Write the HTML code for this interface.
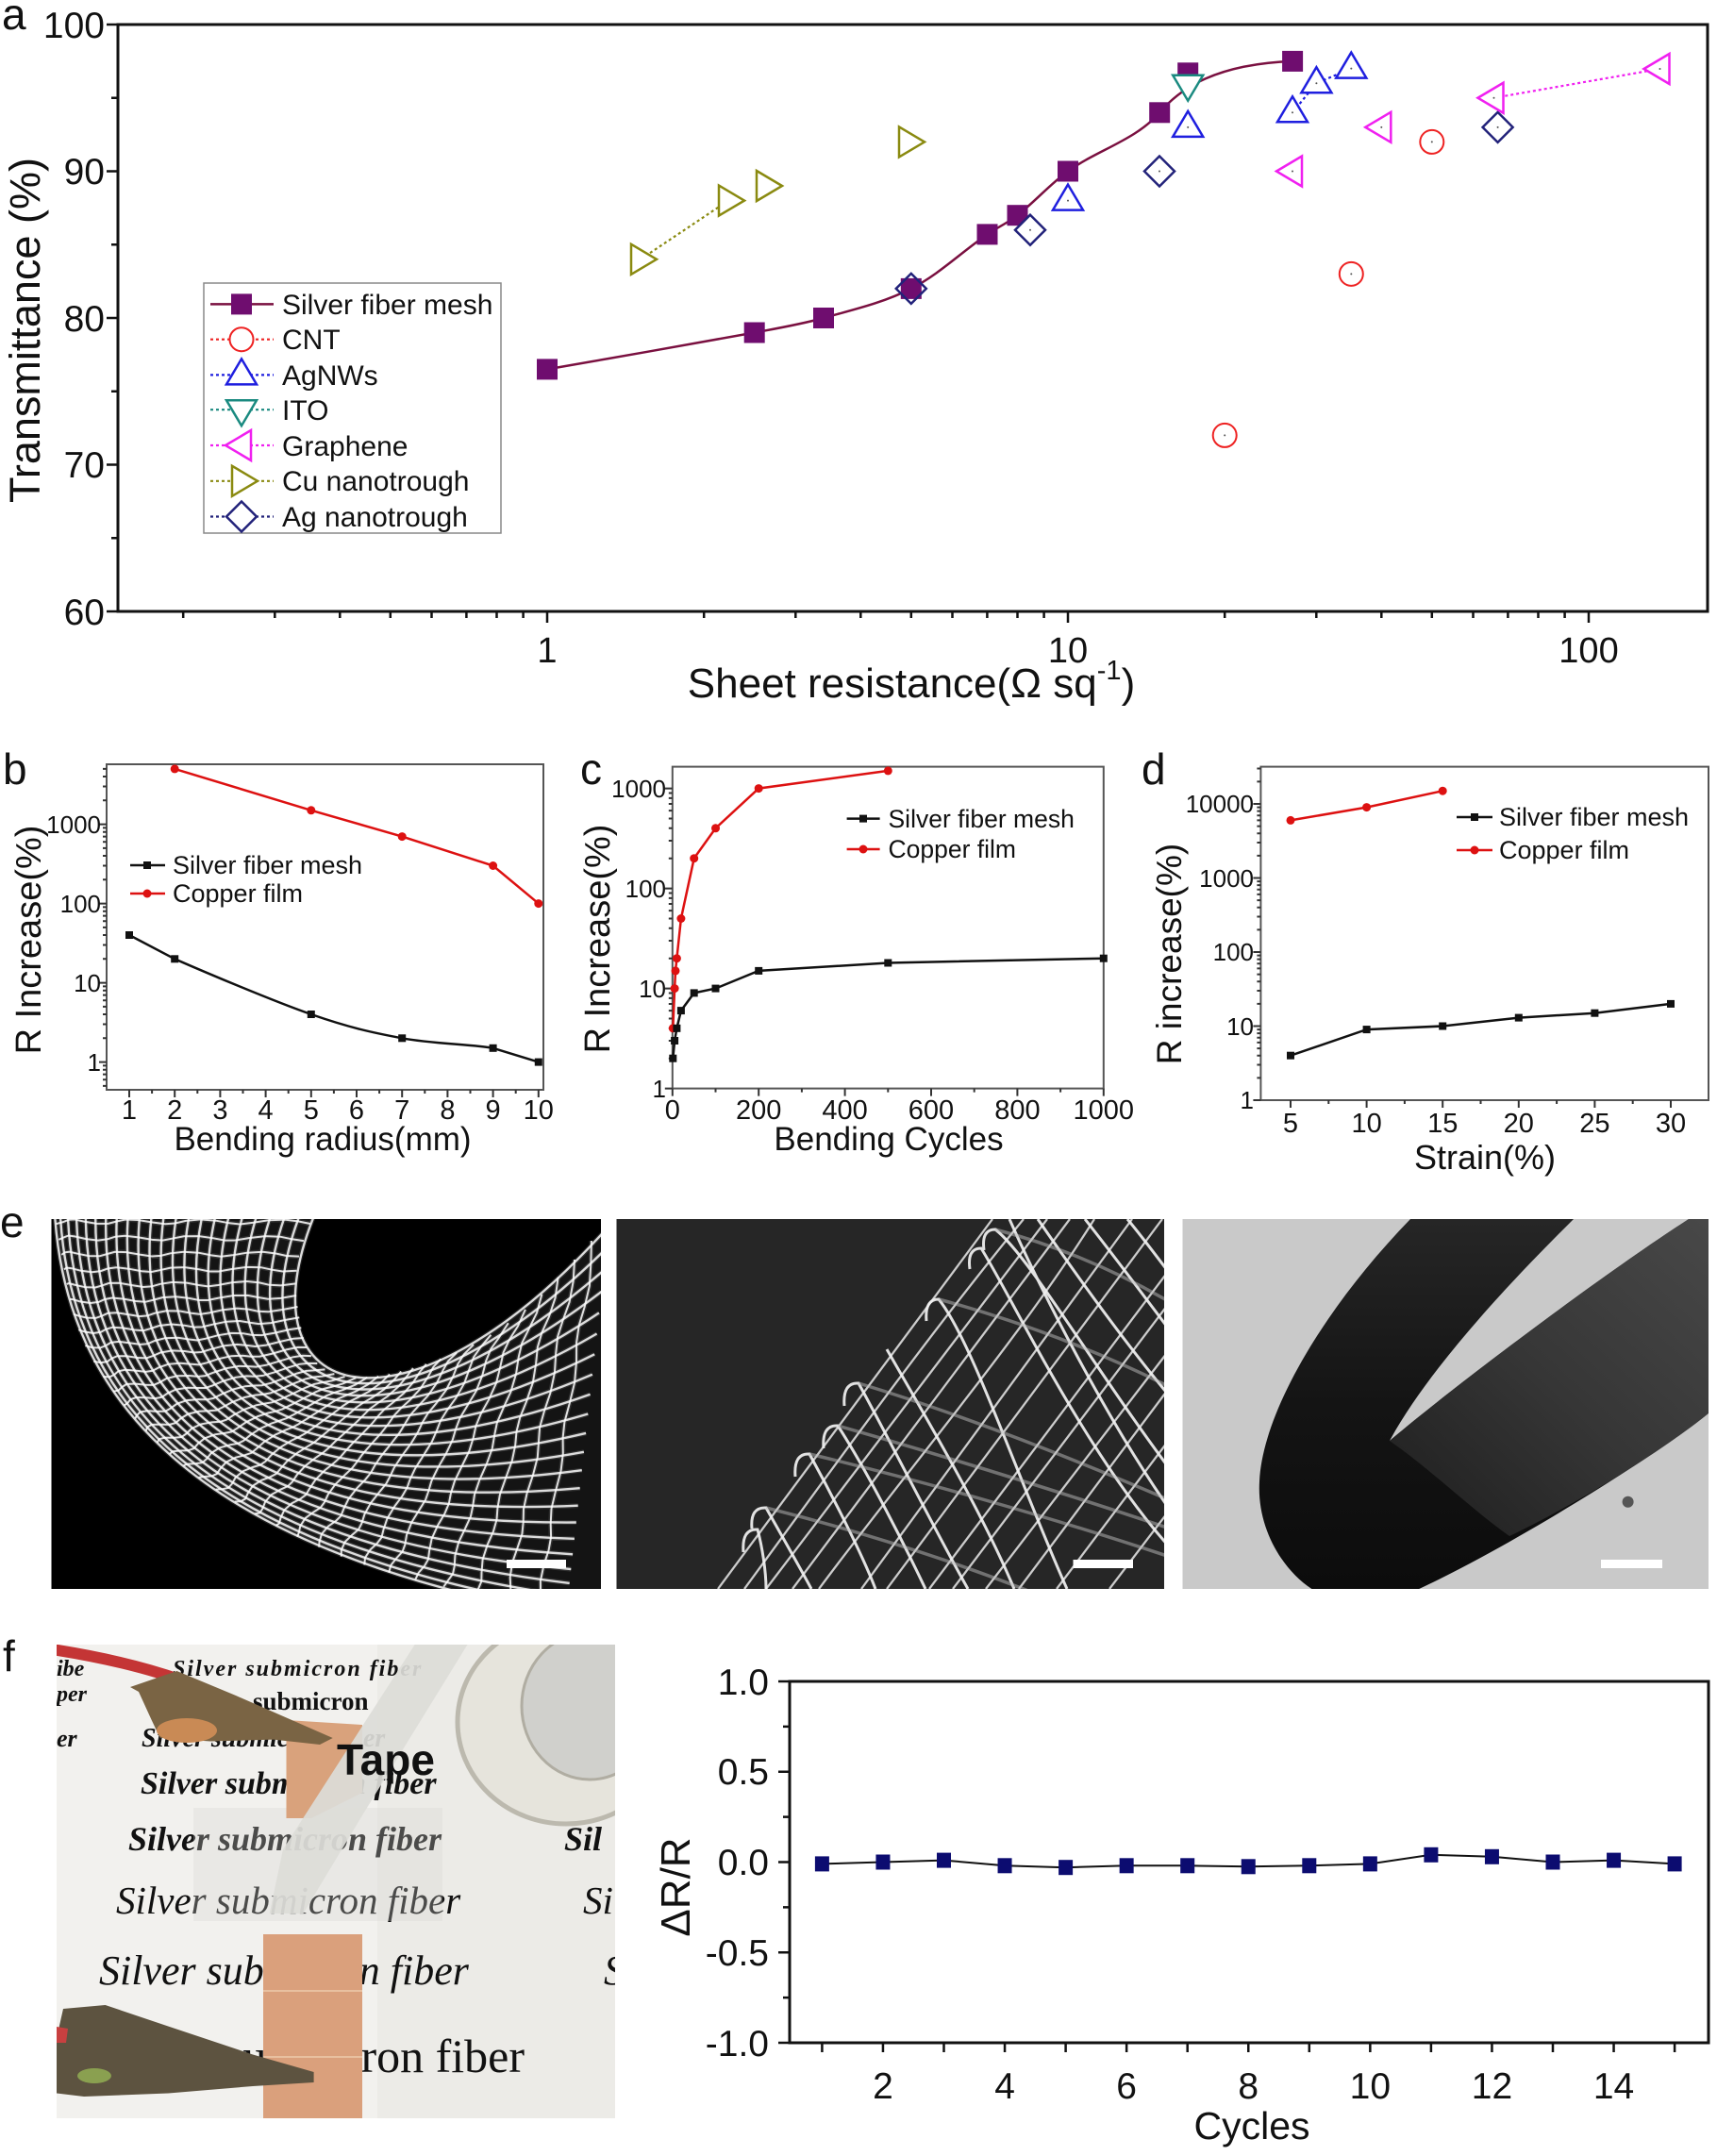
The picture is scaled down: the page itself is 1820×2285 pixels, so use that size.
<!DOCTYPE html>
<html><head><meta charset="utf-8"><style>
html,body{margin:0;padding:0;background:#fff;}
svg{display:block;}
text{font-family:"Liberation Sans",Arial,sans-serif;fill:#111;}
.sr{font-family:"Liberation Serif","Times New Roman",serif;}
</style></head><body>
<svg xmlns="http://www.w3.org/2000/svg" width="1820" height="2285" viewBox="0 0 1820 2285">
<defs>
<clipPath id="c1"><rect x="54.5" y="1292" width="582.5" height="392"/></clipPath>
<clipPath id="c2"><rect x="653.5" y="1292" width="580.5" height="392"/></clipPath>
<clipPath id="c3"><rect x="1253.5" y="1292" width="557.5" height="392"/></clipPath>
<clipPath id="cp"><rect x="60" y="1743" width="592" height="502"/></clipPath>
<linearGradient id="ra" x1="0" y1="1" x2="1" y2="0"><stop offset="0" stop-color="#1e1e1e"/><stop offset="0.5" stop-color="#383838"/><stop offset="1" stop-color="#4a4a4a"/></linearGradient>
<linearGradient id="la" x1="0" y1="0" x2="0" y2="1"><stop offset="0" stop-color="#262626"/><stop offset="0.5" stop-color="#141414"/><stop offset="1" stop-color="#0c0c0c"/></linearGradient>
</defs>
<rect width="1820" height="2285" fill="#fff"/>

<!-- ================= PANEL A ================= -->
<text x="2" y="31" font-size="46">a</text>
<rect x="125" y="26" width="1685" height="622" fill="none" stroke="#111" stroke-width="3"/>
<path fill="none" stroke="#111" stroke-width="2.5" d="M125,26h-12M125,181.5h-12M125,337h-12M125,492.5h-12M125,648h-12M125,103.75h-7M125,259.25h-7M125,414.75h-7M125,570.25h-7
M580,648v12M1132,648v12M1684,648v12
M194.2,648v7M291.3,648v7M360.3,648v7M413.8,648v7M457.5,648v7M494.4,648v7M526.5,648v7M554.6,648v7
M746.2,648v7M843.3,648v7M912.3,648v7M965.8,648v7M1009.5,648v7M1046.4,648v7M1078.5,648v7M1106.6,648v7
M1298.2,648v7M1395.3,648v7M1464.3,648v7M1517.8,648v7M1561.5,648v7M1598.4,648v7M1630.5,648v7M1658.6,648v7"/>
<g font-size="39" text-anchor="end">
<text x="111" y="40">100</text><text x="111" y="195">90</text><text x="111" y="351">80</text><text x="111" y="506">70</text><text x="111" y="662">60</text>
</g>
<g font-size="38" text-anchor="middle">
<text x="580" y="702">1</text><text x="1132" y="702">10</text><text x="1684" y="702">100</text>
</g>
<text x="966" y="739" font-size="44" text-anchor="middle">Sheet resistance(Ω sq<tspan font-size="29" dy="-19">-1</tspan><tspan dy="19">)</tspan></text>
<text transform="translate(42,350) rotate(-90)" font-size="45" text-anchor="middle">Transmittance (%)</text>

<!-- silver fiber mesh curve -->
<path fill="none" stroke="#7a1040" stroke-width="2.5" d="M580,391.4 C652.9,378.5 727,366 799.7,352.5 C824.3,347.9 848.9,343.75 873,337 C904.5,328.2 936.7,320.8 965.8,305.9 C995.2,290.9 1019.3,267.1 1046.5,248.4 C1056.9,241.2 1068.6,236 1078.5,228.2 C1097.2,213.6 1112.8,195.4 1132,181.5 C1162.8,159.2 1204.3,148.2 1229.2,119.3 C1251.8,92.7 1290,68 1370,64.9"/>
<g fill="#6f0d6f">
<rect x="569" y="380.4" width="22" height="22"/>
<rect x="788.7" y="341.5" width="22" height="22"/>
<rect x="862" y="326" width="22" height="22"/>
<rect x="954.8" y="294.9" width="22" height="22"/>
<rect x="1035.5" y="237.4" width="22" height="22"/>
<rect x="1067.5" y="217.2" width="22" height="22"/>
<rect x="1121" y="170.5" width="22" height="22"/>
<rect x="1218.2" y="108.3" width="22" height="22"/>
<rect x="1248.2" y="66.3" width="22" height="22"/>
<rect x="1359.1" y="53.9" width="22" height="22"/>
</g>
<g fill="none" stroke-width="2.2" stroke-dasharray="3,3">
<path stroke="#8a8a10" d="M679,274.8L772,212.6"/>
<path stroke="#1f1fdf" d="M1370,119.3L1395.4,88.2L1432.3,72.6"/>
<path stroke="#f020f0" d="M1583.5,103.75L1759.5,73"/>
</g>
<g fill="#fff" stroke="#ee2222" stroke-width="2">
<circle cx="1298.2" cy="461.4" r="12.5"/><circle cx="1432.3" cy="290.35" r="12.5"/><circle cx="1517.8" cy="150.4" r="12.5"/>
</g>
<g fill="#fff" stroke="#22227a" stroke-width="2.5">
<path d="M965.8,289.9l16,16l-16,16l-16,-16z" fill="none"/>
<path d="M1092,227.7l16,16l-16,16l-16,-16z"/>
<path d="M1229,165.5l16,16l-16,16l-16,-16z"/>
<path d="M1587.6,118.85l16,16l-16,16l-16,-16z"/>
</g>
<g fill="#fff" stroke="#1f1fdf" stroke-width="2.5">
<path d="M1132,195.6l16,27h-32z"/>
<path d="M1259.2,117.85l16,27h-32z"/>
<path d="M1370,102.3l16,27h-32z"/>
<path d="M1395.4,71.2l16,27h-32z"/>
<path d="M1432.3,55.6l16,27h-32z"/>
</g>
<path fill="#fff" stroke="#1a8a80" stroke-width="2.5" d="M1243.2,79.7h32l-16,27z"/>
<g fill="#fff" stroke="#f020f0" stroke-width="2.5">
<path d="M1353,181.5l27,-16v32z"/>
<path d="M1447.3,134.85l27,-16v32z"/>
<path d="M1566.5,103.75l27,-16v32z"/>
<path d="M1742.5,73l27,-16v32z"/>
</g>
<g fill="#fff" stroke="#8a8a10" stroke-width="2.5">
<path d="M696,274.8l-27,-16v32z"/>
<path d="M789,212.6l-27,-16v32z"/>
<path d="M829,197l-27,-16v32z"/>
<path d="M980,150.4l-27,-16v32z"/>
</g>
<g fill="#555">
<circle cx="1298.2" cy="461.4" r="1"/><circle cx="1432.3" cy="290.35" r="1"/><circle cx="1517.8" cy="150.4" r="1"/>
<circle cx="1132" cy="212.6" r="1"/><circle cx="1259.2" cy="134.85" r="1"/><circle cx="1370" cy="119.3" r="1"/><circle cx="1395.4" cy="88.2" r="1"/><circle cx="1432.3" cy="72.6" r="1"/>
<circle cx="1370" cy="181.5" r="1"/><circle cx="1464.3" cy="134.85" r="1"/><circle cx="1583.5" cy="103.75" r="1"/><circle cx="1759.5" cy="73" r="1"/>
<circle cx="1092" cy="243.7" r="1"/><circle cx="1229" cy="181.5" r="1"/><circle cx="1587.6" cy="134.85" r="1"/>
</g>
<!-- legend a -->
<rect x="216" y="300" width="315" height="265" fill="#fff" stroke="#888" stroke-width="1.5"/>
<path d="M223,322.4H290" stroke="#7a1040" stroke-width="2.5"/>
<rect x="245" y="311.4" width="22" height="22" fill="#6f0d6f"/>
<g fill="none" stroke-width="2.2" stroke-dasharray="3,3">
<path d="M223,359.7H290" stroke="#ee2222"/>
<path d="M223,397.4H290" stroke="#1f1fdf"/>
<path d="M223,434.2H290" stroke="#1a8a80"/>
<path d="M223,472H290" stroke="#f020f0"/>
<path d="M223,509.8H290" stroke="#8a8a10"/>
<path d="M223,547.5H290" stroke="#22227a"/>
</g>
<circle cx="256" cy="359.7" r="12.5" fill="#fff" stroke="#ee2222" stroke-width="2"/>
<path d="M256,380.4l16,27h-32z" fill="#fff" stroke="#1f1fdf" stroke-width="2.5"/>
<path d="M240,424.2h32l-16,27z" fill="#fff" stroke="#1a8a80" stroke-width="2.5"/>
<path d="M239,472l27,-16v32z" fill="#fff" stroke="#f020f0" stroke-width="2.5"/>
<path d="M273,509.8l-27,-16v32z" fill="#fff" stroke="#8a8a10" stroke-width="2.5"/>
<path d="M256,531.5l16,16l-16,16l-16,-16z" fill="#fff" stroke="#22227a" stroke-width="2.5"/>
<g font-size="30">
<text x="299" y="333">Silver fiber mesh</text>
<text x="299" y="370">CNT</text>
<text x="299" y="408">AgNWs</text>
<text x="299" y="445">ITO</text>
<text x="299" y="483">Graphene</text>
<text x="299" y="520">Cu nanotrough</text>
<text x="299" y="558">Ag nanotrough</text>
</g>

<!-- ================= PANEL B ================= -->
<text x="3" y="831" font-size="46">b</text>
<rect x="113" y="810" width="463" height="345" fill="none" stroke="#555" stroke-width="2"/>
<path fill="none" stroke="#333" stroke-width="2" d="M113,1125.6h-8M113,1041.6h-8M113,957.6h-8M113,873.6h-8
M113,1150.9h-4M113,1144.2h-4M113,1138.6h-4M113,1133.7h-4M113,1129.4h-4
M113,1100.3h-4M113,1085.5h-4M113,1075h-4M113,1066.9h-4M113,1060.2h-4M113,1054.6h-4M113,1049.7h-4M113,1045.4h-4
M113,1016.3h-4M113,1001.5h-4M113,991h-4M113,982.9h-4M113,976.2h-4M113,970.6h-4M113,965.7h-4M113,961.4h-4
M113,932.3h-4M113,917.5h-4M113,907h-4M113,898.9h-4M113,892.2h-4M113,886.6h-4M113,881.7h-4M113,877.4h-4
M113,848.3h-4M113,833.5h-4M113,823h-4M113,814.9h-4
M137,1155v8M185.2,1155v8M233.4,1155v8M281.6,1155v8M329.8,1155v8M378,1155v8M426.2,1155v8M474.4,1155v8M522.6,1155v8M570.8,1155v8
M161.1,1155v4M209.3,1155v4M257.5,1155v4M305.7,1155v4M353.9,1155v4M402.1,1155v4M450.3,1155v4M498.5,1155v4M546.7,1155v4"/>
<path fill="none" stroke="#dd1111" stroke-width="2.5" d="M185.2,814.9L329.8,858.8L426.2,886.6L522.6,917.5L570.8,957.6"/>
<path fill="none" stroke="#111" stroke-width="2.5" d="M137,991L185.2,1016.3C217.3,1030.3 289.6,1061 329.8,1075C370,1089 394.1,1094.3 426.2,1100.3C458.3,1106.3 498.5,1106.6 522.6,1110.8L570.8,1125.6"/>
<g fill="#dd1111"><circle cx="185.2" cy="814.9" r="4.5"/><circle cx="329.8" cy="858.8" r="4.5"/><circle cx="426.2" cy="886.6" r="4.5"/><circle cx="522.6" cy="917.5" r="4.5"/><circle cx="570.8" cy="957.6" r="4.5"/></g>
<g fill="#111"><rect x="133" y="987" width="8" height="8"/><rect x="181.2" y="1012.3" width="8" height="8"/><rect x="325.8" y="1071" width="8" height="8"/><rect x="422.2" y="1096.3" width="8" height="8"/><rect x="518.6" y="1106.8" width="8" height="8"/><rect x="566.8" y="1121.6" width="8" height="8"/></g>
<path d="M138,917H175" stroke="#111" stroke-width="2.5"/><rect x="152" y="913" width="8" height="8" fill="#111"/>
<path d="M138,947H175" stroke="#dd1111" stroke-width="2.5"/><circle cx="156" cy="947" r="4.5" fill="#dd1111"/>
<text x="183" y="926" font-size="27">Silver fiber mesh</text>
<text x="183" y="956" font-size="27">Copper film</text>
<g font-size="26" text-anchor="end" fill="#222">
<text x="107" y="883">1000</text><text x="107" y="967">100</text><text x="107" y="1051">10</text><text x="107" y="1135">1</text>
</g>
<g font-size="29" text-anchor="middle">
<text x="137" y="1186">1</text><text x="185.2" y="1186">2</text><text x="233.4" y="1186">3</text><text x="281.6" y="1186">4</text><text x="329.8" y="1186">5</text><text x="378" y="1186">6</text><text x="426.2" y="1186">7</text><text x="474.4" y="1186">8</text><text x="522.6" y="1186">9</text><text x="570.8" y="1186">10</text>
</g>
<text transform="translate(43,996) rotate(-90)" font-size="38" text-anchor="middle">R Increase(%)</text>
<text x="342" y="1219" font-size="35" text-anchor="middle">Bending radius(mm)</text>

<!-- ================= PANEL C ================= -->
<text x="615" y="831" font-size="46">c</text>
<rect x="712.8" y="812.6" width="457" height="341" fill="none" stroke="#555" stroke-width="2"/>
<path fill="none" stroke="#333" stroke-width="2" d="M712.8,1153.6h-8M712.8,1047.6h-8M712.8,941.6h-8M712.8,835.6h-8
M712.8,1121.7h-4M712.8,1103h-4M712.8,1089.8h-4M712.8,1079.5h-4M712.8,1071.1h-4M712.8,1064h-4M712.8,1057.9h-4M712.8,1052.5h-4
M712.8,1015.7h-4M712.8,997h-4M712.8,983.8h-4M712.8,973.5h-4M712.8,965.1h-4M712.8,958h-4M712.8,951.9h-4M712.8,946.5h-4
M712.8,909.7h-4M712.8,891h-4M712.8,877.8h-4M712.8,867.5h-4M712.8,859.1h-4M712.8,852h-4M712.8,845.9h-4M712.8,840.5h-4
M712.8,1153.6v8M804.2,1153.6v8M895.6,1153.6v8M987,1153.6v8M1078.4,1153.6v8M1169.8,1153.6v8
M758.5,1153.6v4M849.9,1153.6v4M941.3,1153.6v4M1032.7,1153.6v4M1124.1,1153.6v4"/>
<path fill="none" stroke="#dd1111" stroke-width="2.5" d="M713.3,1089.8L715.1,1047.6L716,1028.9L717.4,1015.7L721.9,973.5L735.7,909.7L758.5,877.8L804.2,835.6L941.3,816.9"/>
<path fill="none" stroke="#111" stroke-width="2.5" d="M713.3,1121.7L715.1,1103L717.4,1089.8L721.9,1071.1L735.7,1052.4L758.5,1047.6L804.2,1028.9L941.3,1020.5L1169.8,1015.7"/>
<g fill="#dd1111"><circle cx="713.3" cy="1089.8" r="4.5"/><circle cx="715.1" cy="1047.6" r="4.5"/><circle cx="716" cy="1028.9" r="4.5"/><circle cx="717.4" cy="1015.7" r="4.5"/><circle cx="721.9" cy="973.5" r="4.5"/><circle cx="735.7" cy="909.7" r="4.5"/><circle cx="758.5" cy="877.8" r="4.5"/><circle cx="804.2" cy="835.6" r="4.5"/><circle cx="941.3" cy="816.9" r="4.5"/></g>
<g fill="#111"><rect x="709.3" y="1117.7" width="8" height="8"/><rect x="711.1" y="1099" width="8" height="8"/><rect x="713.4" y="1085.8" width="8" height="8"/><rect x="717.9" y="1067.1" width="8" height="8"/><rect x="731.7" y="1048.4" width="8" height="8"/><rect x="754.5" y="1043.6" width="8" height="8"/><rect x="800.2" y="1024.9" width="8" height="8"/><rect x="937.3" y="1016.5" width="8" height="8"/><rect x="1165.8" y="1011.7" width="8" height="8"/></g>
<path d="M897.6,867.6H932.6" stroke="#111" stroke-width="2.5"/><rect x="911" y="863.6" width="8" height="8" fill="#111"/>
<path d="M897.6,900H932.6" stroke="#dd1111" stroke-width="2.5"/><circle cx="915" cy="900" r="4.5" fill="#dd1111"/>
<text x="941.5" y="877" font-size="26.5">Silver fiber mesh</text>
<text x="941.5" y="909" font-size="26.5">Copper film</text>
<g font-size="26" text-anchor="end" fill="#222">
<text x="706" y="845">1000</text><text x="706" y="951">100</text><text x="706" y="1057">10</text><text x="706" y="1163">1</text>
</g>
<g font-size="29" text-anchor="middle">
<text x="712.8" y="1186">0</text><text x="804.2" y="1186">200</text><text x="895.6" y="1186">400</text><text x="987" y="1186">600</text><text x="1078.4" y="1186">800</text><text x="1169.8" y="1186">1000</text>
</g>
<text transform="translate(646,995) rotate(-90)" font-size="38" text-anchor="middle">R Increase(%)</text>
<text x="942" y="1219" font-size="35" text-anchor="middle">Bending Cycles</text>

<!-- ================= PANEL D ================= -->
<text x="1210" y="831" font-size="46">d</text>
<rect x="1336.4" y="812.6" width="474.6" height="353.4" fill="none" stroke="#555" stroke-width="2"/>
<path fill="none" stroke="#333" stroke-width="2" d="M1336.4,1166h-8M1336.4,1087.5h-8M1336.4,1009h-8M1336.4,930.5h-8M1336.4,852h-8
M1336.4,1142.4h-4M1336.4,1128.5h-4M1336.4,1118.7h-4M1336.4,1111.1h-4M1336.4,1104.9h-4M1336.4,1099.7h-4M1336.4,1095.1h-4M1336.4,1091.1h-4
M1336.4,1063.9h-4M1336.4,1050h-4M1336.4,1040.2h-4M1336.4,1032.6h-4M1336.4,1026.4h-4M1336.4,1021.2h-4M1336.4,1016.6h-4M1336.4,1012.6h-4
M1336.4,985.4h-4M1336.4,971.5h-4M1336.4,961.7h-4M1336.4,954.1h-4M1336.4,947.9h-4M1336.4,942.7h-4M1336.4,938.1h-4M1336.4,934.1h-4
M1336.4,906.9h-4M1336.4,893h-4M1336.4,883.2h-4M1336.4,875.6h-4M1336.4,869.4h-4M1336.4,864.2h-4M1336.4,859.6h-4M1336.4,855.6h-4
M1336.4,828.4h-4M1336.4,814.5h-4
M1368,1166v8M1448.6,1166v8M1529.2,1166v8M1609.8,1166v8M1690.4,1166v8M1771,1166v8
M1408.3,1166v4M1488.9,1166v4M1569.5,1166v4M1650.1,1166v4M1730.7,1166v4"/>
<path fill="none" stroke="#dd1111" stroke-width="2.5" d="M1368,869.4L1448.6,855.6L1529.2,838.2"/>
<path fill="none" stroke="#111" stroke-width="2.5" d="M1368,1118.7L1448.6,1091.1L1529.2,1087.5L1609.8,1078.6L1690.4,1073.7L1771,1063.9"/>
<g fill="#dd1111"><circle cx="1368" cy="869.4" r="4.5"/><circle cx="1448.6" cy="855.6" r="4.5"/><circle cx="1529.2" cy="838.2" r="4.5"/></g>
<g fill="#111"><rect x="1364" y="1114.7" width="8" height="8"/><rect x="1444.6" y="1087.1" width="8" height="8"/><rect x="1525.2" y="1083.5" width="8" height="8"/><rect x="1605.8" y="1074.6" width="8" height="8"/><rect x="1686.4" y="1069.7" width="8" height="8"/><rect x="1767" y="1059.9" width="8" height="8"/></g>
<path d="M1544,866H1582" stroke="#111" stroke-width="2.5"/><rect x="1559" y="862" width="8" height="8" fill="#111"/>
<path d="M1544,901H1582" stroke="#dd1111" stroke-width="2.5"/><circle cx="1563" cy="901" r="4.5" fill="#dd1111"/>
<text x="1589" y="875" font-size="27">Silver fiber mesh</text>
<text x="1589" y="910" font-size="27">Copper film</text>
<g font-size="26" text-anchor="end" fill="#222">
<text x="1329" y="861">10000</text><text x="1329" y="940">1000</text><text x="1329" y="1018">100</text><text x="1329" y="1097">10</text><text x="1329" y="1175">1</text>
</g>
<g font-size="29" text-anchor="middle">
<text x="1368" y="1200">5</text><text x="1448.6" y="1200">10</text><text x="1529.2" y="1200">15</text><text x="1609.8" y="1200">20</text><text x="1690.4" y="1200">25</text><text x="1771" y="1200">30</text>
</g>
<text transform="translate(1252,1011) rotate(-90)" font-size="37" text-anchor="middle">R increase(%)</text>
<text x="1574" y="1239" font-size="36" text-anchor="middle">Strain(%)</text>

<!-- ================= PANEL E ================= -->
<text x="0" y="1311" font-size="46">e</text>
<!-- image 1 -->
<rect x="54.5" y="1292" width="582.5" height="392" fill="#000"/>
<g clip-path="url(#c1)">
<path d="M60,1290 C70,1480 200,1640 600,1712 L660,1712 L645,1300 C430,1540 250,1490 334,1290Z" fill="#fff" opacity="0.08"/>
<path id="mesh1g" fill="none" stroke="#ffffff" stroke-width="5" opacity="0.12" d=""/>
<path id="mesh1" fill="none" stroke="#f0f0f0" stroke-width="2.4" opacity="0.9" d=""/>
<path id="mesh1b" fill="none" stroke="#ffffff" stroke-width="2" opacity="0.85" d=""/>
</g>
<rect x="537" y="1653" width="63" height="9" fill="#fff"/>
<!-- image 2 -->
<rect x="653.5" y="1292" width="580.5" height="392" fill="#262626"/>
<g clip-path="url(#c2)" fill="none">
<g stroke="#dedede" stroke-width="2.3" opacity="0.9">
<path d="M761,1684L1052,1292"/>
<path d="M789,1684C880,1560 980,1420 1085,1292"/>
<path d="M812,1684L1110,1292"/>
<path d="M840,1684L1134,1292"/>
<path d="M868,1684C960,1560 1080,1420 1160,1292"/>
<path d="M913,1684L1200,1292"/>
<path d="M940,1684L1232,1292"/>
<path d="M985,1684L1240,1345"/>
<path d="M1010,1684L1240,1380"/>
<path d="M1045,1684L1240,1430"/>
<path d="M1080,1684L1240,1470"/>
<path d="M1120,1684L1240,1525"/>
<path d="M1176,1684L1240,1600"/>
</g>
<g stroke="#f2f2f2" stroke-width="3" opacity="0.92">
<path d="M1043,1325 Q1040,1303 1055,1303 C1090,1330 1160,1450 1240,1557"/>
<path d="M1028,1345 Q1025,1323 1040,1323 C1070,1370 1150,1540 1240,1640"/>
<path d="M982,1400 Q980,1377 995,1377 C1030,1420 1080,1570 1131,1684"/>
<path d="M895,1490 Q893,1465 910,1466 C940,1520 990,1620 1026,1684"/>
<path d="M873,1535 Q871,1510 888,1511 C920,1560 960,1640 981,1684"/>
<path d="M843,1565 Q841,1540 858,1541 C885,1590 915,1650 928,1684"/>
<path d="M797,1620 Q795,1597 812,1598 C830,1630 850,1665 860,1684"/>
<path d="M788,1645 Q786,1620 803,1621 C808,1640 812,1665 812,1684"/>
<path d="M1100,1292 C1140,1350 1190,1420 1240,1480"/>
<path d="M1150,1292 C1180,1330 1210,1370 1240,1410"/>
<path d="M1195,1292 C1210,1310 1225,1330 1240,1350"/>
<path d="M940,1430 C980,1500 1040,1600 1075,1684"/>
<path d="M1070,1292 C1100,1360 1170,1500 1240,1600"/>
</g>
<g stroke="#bbbbbb" stroke-width="3.5" opacity="0.5">
<path d="M910,1466 C990,1490 1100,1530 1240,1590"/>
<path d="M995,1377 C1080,1400 1160,1430 1240,1470"/>
<path d="M858,1541 C980,1570 1120,1610 1240,1650"/>
<path d="M1055,1303 C1120,1320 1180,1345 1240,1380"/>
<path d="M812,1598 C900,1620 1000,1650 1100,1690"/>
<path d="M888,1511 C990,1540 1120,1580 1240,1620"/>
</g>
</g>
<rect x="1137.5" y="1653" width="63.5" height="9" fill="#fff"/>
<!-- image 3 -->
<rect x="1253.5" y="1292" width="557.5" height="392" fill="#c9c9c9"/>
<g clip-path="url(#c3)">
<path fill="url(#la)" d="M1495,1292 L1668,1292 C1625,1335 1520,1440 1473,1527 C1540,1470 1700,1350 1790,1292 L1812,1292 L1812,1497 C1760,1540 1600,1640 1502,1685 L1392,1685 C1360,1665 1332,1620 1335,1570 C1338,1500 1400,1390 1495,1292 Z"/>
<path fill="url(#ra)" d="M1790,1292 L1812,1292 L1812,1497 C1760,1540 1660,1600 1600,1628 C1560,1600 1520,1560 1473,1527 C1540,1470 1700,1350 1790,1292 Z" opacity="0.95"/>
<circle cx="1725.6" cy="1591.7" r="6" fill="#555"/>
</g>
<rect x="1697" y="1653" width="65" height="9" fill="#fff"/>

<!-- ================= PANEL F ================= -->
<text x="3" y="1771" font-size="46">f</text>
<g clip-path="url(#cp)">
<rect x="60" y="1743" width="592" height="502" fill="#ecebe7"/>
<rect x="60" y="1743" width="340" height="502" fill="#f2f1ee"/>
<text class="sr" x="183" y="1776" font-size="24" font-weight="bold" font-style="italic" fill="#3a4a95" letter-spacing="2">Silver submicron fiber</text>
<text class="sr" x="553" y="1776" font-size="24" font-weight="bold" font-style="italic" fill="#5a67a5" letter-spacing="2">Silver su</text>
<text class="sr" x="60" y="1776" font-size="24" font-weight="bold" font-style="italic" fill="#7080b0">ibe</text>
<text class="sr" x="60" y="1803" font-size="24" font-weight="bold" font-style="italic" fill="#9a3a3a">per</text>
<text class="sr" x="268" y="1812" font-size="27" font-weight="bold" fill="#30304a">submicron</text>
<text class="sr" x="60" y="1851" font-size="26" font-weight="bold" font-style="italic" fill="#9a3a3a">er</text>
<text class="sr" x="150" y="1851" font-size="28" font-weight="bold" font-style="italic" fill="#8a2a2a">Silver submicron fiber</text>
<text class="sr" x="149" y="1901" font-size="34" font-weight="bold" font-style="italic" fill="#222">Silver submicron fiber</text>
<text class="sr" x="136" y="1961" font-size="36" font-weight="bold" font-style="italic" fill="#2b3a8f">Silver submicron fiber</text>
<text class="sr" x="598" y="1961" font-size="36" font-weight="bold" font-style="italic" fill="#2b3a8f">Sil</text>
<text class="sr" x="123" y="2028" font-size="41" font-style="italic" fill="#5b4b5b">Silver submicron fiber</text>
<text class="sr" x="618" y="2028" font-size="41" font-style="italic" fill="#5b4b5b">Si</text>
<text class="sr" x="105" y="2103" font-size="44" font-style="italic" fill="#8b1c1c">Silver submicron fiber</text>
<text class="sr" x="640" y="2103" font-size="44" font-style="italic" fill="#8b1c1c">S</text>
<text class="sr" x="556" y="2196" font-size="50" text-anchor="end" fill="#1a1a1a">Silver submicron fiber</text>
<rect x="205" y="1916" width="264" height="120" fill="#d4d4d0" opacity="0.3"/>
<path d="M303.5,1823 L384,1828 L384,1900 L330,1927 L303.5,1927 Z" fill="#d9a27c"/>
<path d="M439.7,1743 L495.5,1743 L384,1924 L321.4,2028 L285.7,2028 L300,1960 Z" fill="#dcdcd8" opacity="0.92"/>
<ellipse cx="600" cy="1825" rx="115" ry="108" fill="#e6e4dc" stroke="#bcb9ae" stroke-width="5"/>
<ellipse cx="625" cy="1808" rx="72" ry="78" fill="#d0d0cc" stroke="#b0ada2" stroke-width="3"/>
<path d="M55,1748 C100,1755 150,1766 190,1780" fill="none" stroke="#c43535" stroke-width="12" stroke-linecap="round"/>
<path d="M138,1788 L187.5,1771 L250,1797 L352.7,1842 L339,1849 L290,1843.6 L223,1845.5 L169.6,1841.7 L160.7,1823 L147,1793 Z" fill="#7a6444"/>
<ellipse cx="198" cy="1834" rx="32" ry="13" fill="#c98a55"/>
<rect x="279" y="2050" width="105" height="195" fill="#daa07c"/>
<path d="M279,2110H384M279,2180H384" stroke="#e8c0a0" stroke-width="2"/>
<path d="M60,2160 L67,2129 L111.6,2125 L178.6,2147.6 L268,2177.5 L332.6,2196 L332.6,2207 L268,2211 L178.6,2218.5 L89,2222 L60,2218.5 Z" fill="#5d5340"/>
<path d="M60,2148 L72,2150 L70,2165 L60,2165 Z" fill="#c84040"/>
<ellipse cx="100" cy="2200" rx="18" ry="8" fill="#8aa050"/>
<text x="357" y="1881" font-size="46" font-weight="bold" fill="#000">Tape</text>
</g>
<!-- chart f -->
<rect x="837" y="1782" width="974" height="383" fill="none" stroke="#111" stroke-width="3"/>
<path fill="none" stroke="#111" stroke-width="2.5" d="M837,1782h-12M837,1877.75h-12M837,1973.5h-12M837,2069.25h-12M837,2165h-12
M837,1829.9h-7M837,1925.6h-7M837,2021.4h-7M837,2117.1h-7
M871.4,2165v10M935.95,2165v10M1000.5,2165v10M1065.05,2165v10M1129.6,2165v10M1194.15,2165v10M1258.7,2165v10M1323.25,2165v10M1387.8,2165v10M1452.35,2165v10M1516.9,2165v10M1581.45,2165v10M1646,2165v10M1710.55,2165v10M1775.1,2165v10"/>
<path fill="none" stroke="#111" stroke-width="2" d="M871.4,1975.4L935.95,1973.5L1000.5,1971.6L1065.05,1977.3L1129.6,1979.2L1194.15,1977.3L1258.7,1977.3L1323.25,1978.3L1387.8,1977.3L1452.35,1975.4L1516.9,1965.8L1581.45,1967.8L1646,1973.5L1710.55,1971.6L1775.1,1975.4"/>
<g fill="#0c0c70">
<rect x="863.9" y="1967.4" width="15" height="16"/>
<rect x="928.45" y="1965.5" width="15" height="16"/>
<rect x="993" y="1963.6" width="15" height="16"/>
<rect x="1057.55" y="1969.3" width="15" height="16"/>
<rect x="1122.1" y="1971.2" width="15" height="16"/>
<rect x="1186.65" y="1969.3" width="15" height="16"/>
<rect x="1251.2" y="1969.3" width="15" height="16"/>
<rect x="1315.75" y="1970.3" width="15" height="16"/>
<rect x="1380.3" y="1969.3" width="15" height="16"/>
<rect x="1444.85" y="1967.4" width="15" height="16"/>
<rect x="1509.4" y="1957.8" width="15" height="16"/>
<rect x="1573.95" y="1959.8" width="15" height="16"/>
<rect x="1638.5" y="1965.5" width="15" height="16"/>
<rect x="1703.05" y="1963.6" width="15" height="16"/>
<rect x="1767.6" y="1967.4" width="15" height="16"/>
</g>
<g font-size="39" text-anchor="end">
<text x="815" y="1796">1.0</text><text x="815" y="1891">0.5</text><text x="815" y="1987">0.0</text><text x="815" y="2083">-0.5</text><text x="815" y="2179">-1.0</text>
</g>
<g font-size="39" text-anchor="middle">
<text x="935.95" y="2224">2</text><text x="1065.05" y="2224">4</text><text x="1194.15" y="2224">6</text><text x="1323.25" y="2224">8</text><text x="1452.35" y="2224">10</text><text x="1581.45" y="2224">12</text><text x="1710.55" y="2224">14</text>
</g>
<text x="1327" y="2267" font-size="41" text-anchor="middle">Cycles</text>
<text transform="translate(731,2000) rotate(-90)" font-size="44" text-anchor="middle">ΔR/R</text>
</svg>
<script>
(function(){
function bez(P,t){var u=1-t;return [u*u*u*P[0][0]+3*u*u*t*P[1][0]+3*u*t*t*P[2][0]+t*t*t*P[3][0],u*u*u*P[0][1]+3*u*u*t*P[1][1]+3*u*t*t*P[2][1]+t*t*t*P[3][1]];}
var O=[[58,1286],[70,1480],[200,1640],[600,1712]];
var I=[[334,1286],[250,1490],[430,1540],[645,1300]];
var N=22,d='',curves=[];
for(var k=0;k<=N;k++){var s=Math.pow(k/N,1.25);var P=O.map(function(p,i){return [p[0]+(I[i][0]-p[0])*s,p[1]+(I[i][1]-p[1])*s];});curves.push(P);
d+='M'+P[0][0].toFixed(1)+','+P[0][1].toFixed(1)+'C'+P[1][0].toFixed(1)+','+P[1][1].toFixed(1)+' '+P[2][0].toFixed(1)+','+P[2][1].toFixed(1)+' '+P[3][0].toFixed(1)+','+P[3][1].toFixed(1);}
var d2='';
for(var t=0.015;t<1;t+=0.03){var pts=curves.map(function(P){return bez(P,t);});
d2+='M'+pts.map(function(p,j){return (p[0]+Math.sin(j*1.3+t*20)*2.5).toFixed(1)+','+(p[1]+Math.cos(j*1.1+t*17)*2.5).toFixed(1);}).join('L');}
document.getElementById('mesh1').setAttribute('d',d);
document.getElementById('mesh1g').setAttribute('d',d+d2);
document.getElementById('mesh1b').setAttribute('d',d2);
})();
</script>
</body></html>
